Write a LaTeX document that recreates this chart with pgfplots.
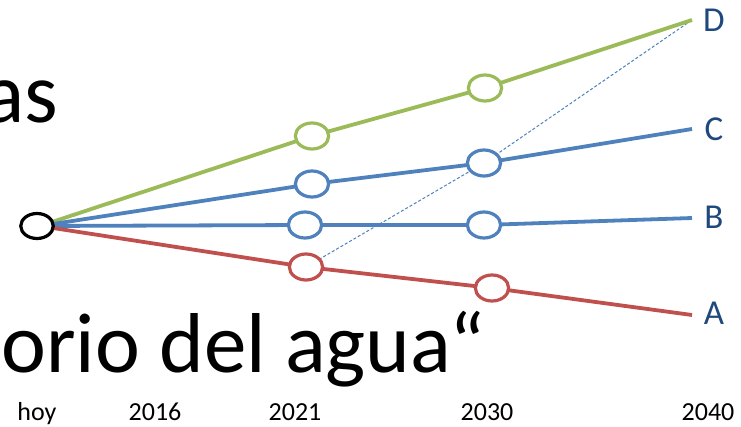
\documentclass[border=0pt]{standalone}
\usepackage{fontspec}
\setmainfont{Carlito}
\usepackage{pgfplots}
\pgfplotsset{compat=1.18}

\definecolor{escgreen}{RGB}{155,187,89}
\definecolor{escblue}{RGB}{79,129,189}
\definecolor{escred}{RGB}{192,80,77}
\definecolor{escnavy}{RGB}{31,73,125}

\begin{document}
\begin{tikzpicture}
\useasboundingbox (0,0) rectangle (741pt,426pt);
\clip (0,0) rectangle (741pt,426pt);
\begin{axis}[
    width=741pt, height=426pt, scale only axis,
    xmin=0, xmax=741, ymin=0, ymax=426,
    hide axis, clip=false,
    every axis plot/.append style={line width=3.8pt},
    esc mark/.style={mark=*, mark size=13pt, mark indices={2,3},
        mark options={solid, xscale=1.28, fill=white, line width=3.2pt}},
  ]
  % big text behind the chart
  \node[anchor=base east, font=\fontsize{86}{90}\selectfont] at (axis cs:62,303) {as};
  \node[anchor=base west, font=\fontsize{85}{90}\selectfont] at (axis cs:-2,54) {orio del agua“};

  % dashed path A-2021 -> C-2030 -> D-2040
  \addplot[escblue, line width=1pt, dash pattern=on 3pt off 2pt, mark=none]
    coordinates {(306,159) (484,263) (692,406)};

  % scenarios
  \addplot[escgreen, esc mark] coordinates {(40,200) (312,290) (485,338) (692,406)};
  \addplot[escblue, esc mark] coordinates {(40,200) (312,242) (484,263) (692,297)};
  \addplot[escblue, esc mark] coordinates {(40,200) (305,201) (484,201) (692,208)};
  \addplot[escred, esc mark] coordinates {(40,200) (306,159) (492,138) (692,111)};

  % today
  \addplot[black, only marks, mark=*, mark size=12.5pt,
    mark options={xscale=1.3, fill=white, line width=3.2pt}] coordinates {(37,200)};

  % scenario letters
  \begin{scope}[every node/.style={text=escnavy, font=\fontsize{35}{36}\selectfont}]
    \node at (axis cs:714,406) {D};
    \node at (axis cs:714,297) {C};
    \node at (axis cs:714,209) {B};
    \node at (axis cs:714,113) {A};
  \end{scope}

  % time labels
  \begin{scope}[every node/.style={anchor=base, font=\fontsize{26}{28}\selectfont}]
    \node at (axis cs:37,6) {hoy};
    \node at (axis cs:155,6) {2016};
    \node at (axis cs:295,6) {2021};
    \node at (axis cs:487,6) {2030};
    \node at (axis cs:708,6) {2040};
  \end{scope}
\end{axis}
\end{tikzpicture}
\end{document}
